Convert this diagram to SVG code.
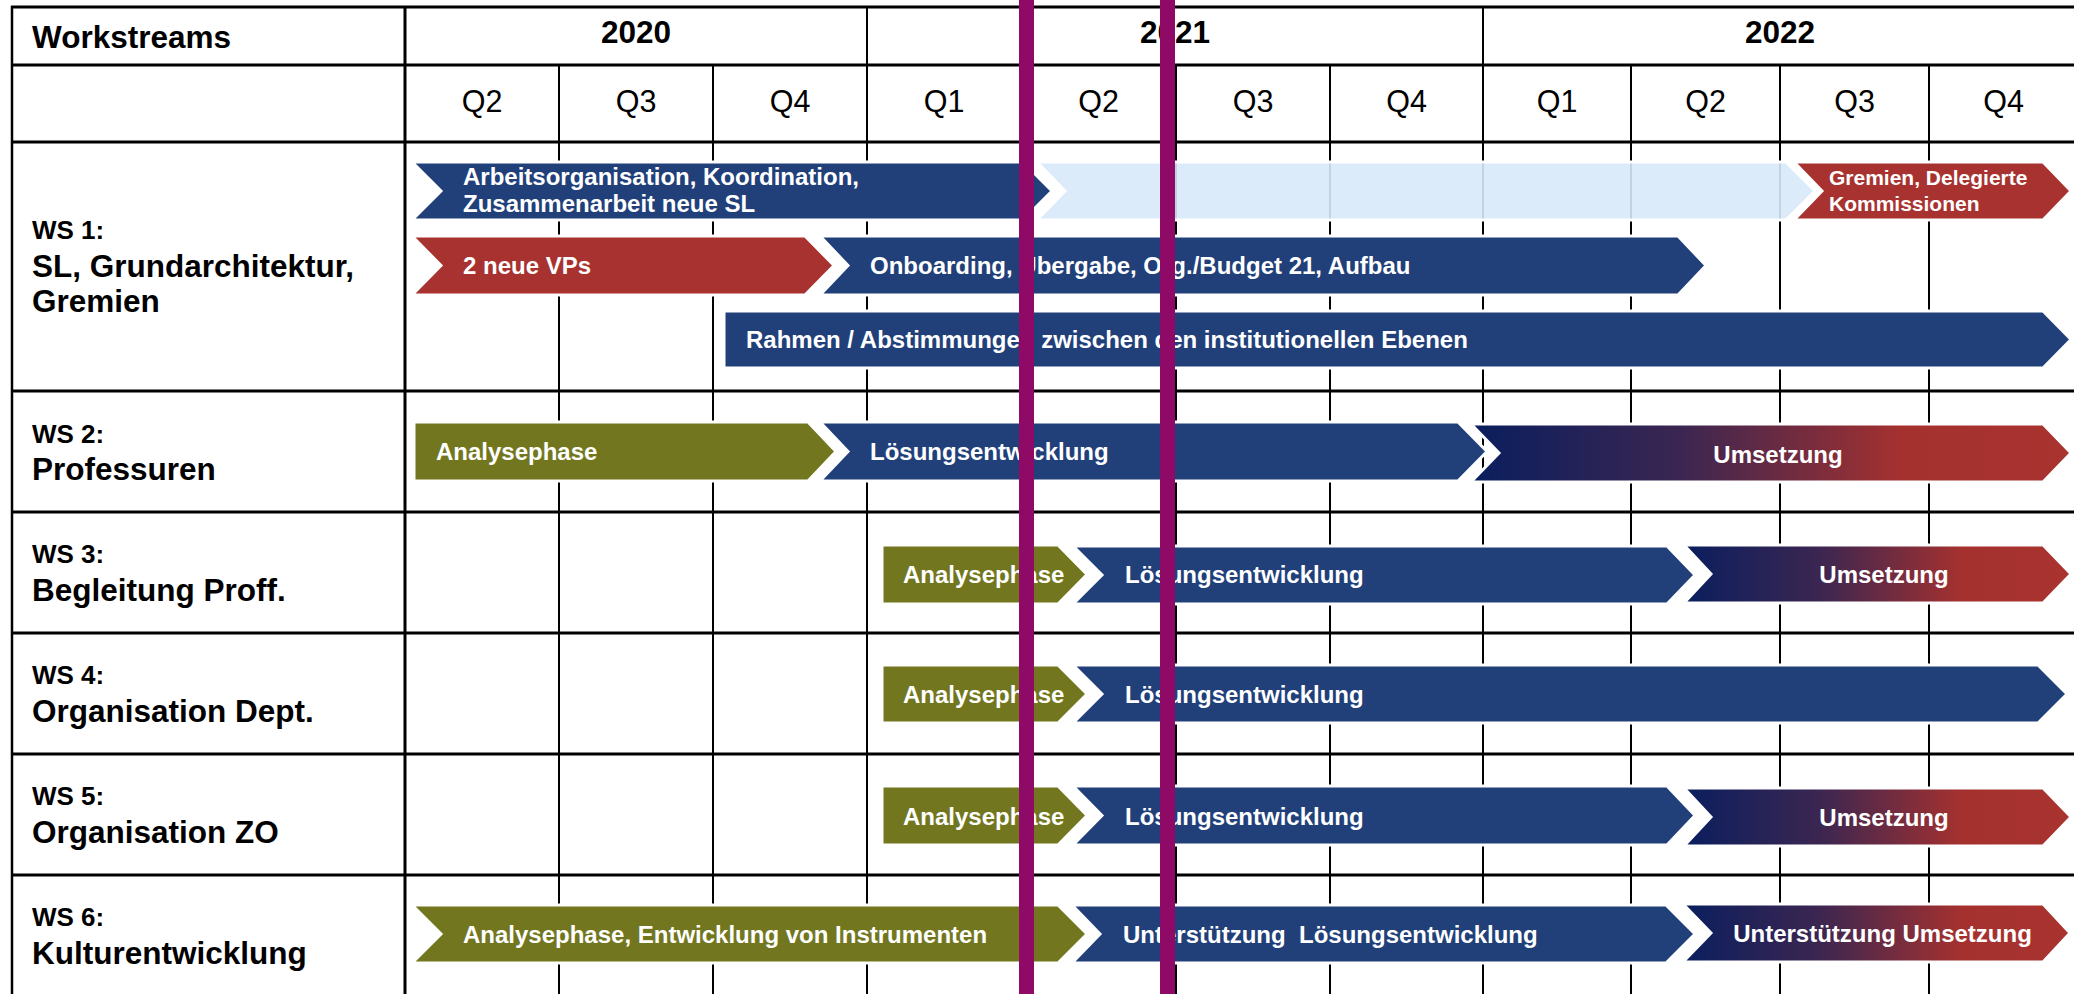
<svg xmlns="http://www.w3.org/2000/svg" width="2074" height="994" viewBox="0 0 2074 994">
<style>
text{font-family:"Liberation Sans",Arial,Helvetica,sans-serif}
.h{font-weight:bold;font-size:31.5px;fill:#000}
.q{font-size:30.5px;fill:#000;text-anchor:middle}
.ws{font-weight:bold;font-size:26px;fill:#000}
.lb{font-weight:bold;font-size:31.5px;fill:#000}
.bt{font-weight:bold;font-size:24px;fill:#fff}
.bs{font-weight:bold;font-size:21px;fill:#fff}
.mid{text-anchor:middle}
.hl{stroke:#000;stroke-width:3}
.vl{stroke:#000;stroke-width:2}
.blue{fill:#21407A;stroke:#fff;stroke-width:3}
.red{fill:#A8322F;stroke:#fff;stroke-width:3}
.olive{fill:#72771F;stroke:#fff;stroke-width:3}
.lightblue{fill:#D8E9F9;fill-opacity:0.9;stroke:#fff;stroke-width:3}
.grad{fill:url(#g);stroke:#fff;stroke-width:3}
.purple{fill:#8E0A66}
</style>
<defs>
<linearGradient id="g" x1="0" y1="0" x2="1" y2="0">
<stop offset="0" stop-color="#0A1E5E"/>
<stop offset="0.35" stop-color="#3B2651"/>
<stop offset="0.72" stop-color="#A5312F"/>
<stop offset="1" stop-color="#A8332F"/>
</linearGradient>
</defs>
<rect x="0" y="0" width="2074" height="994" fill="#fff"/>
<g id="grid">
<line class="hl" x1="11" y1="7" x2="2074" y2="7"/>
<line class="hl" x1="11" y1="65" x2="2074" y2="65"/>
<line class="hl" x1="11" y1="142" x2="2074" y2="142"/>
<line class="hl" x1="11" y1="391" x2="2074" y2="391"/>
<line class="hl" x1="11" y1="512" x2="2074" y2="512"/>
<line class="hl" x1="11" y1="633" x2="2074" y2="633"/>
<line class="hl" x1="11" y1="754" x2="2074" y2="754"/>
<line class="hl" x1="11" y1="875" x2="2074" y2="875"/>
<line class="vl" x1="12" y1="6" x2="12" y2="994" style="stroke-width:2.5"/>
<line class="vl" x1="405" y1="6" x2="405" y2="994" style="stroke-width:3"/>
<line class="vl" x1="867" y1="6" x2="867" y2="994"/>
<line class="vl" x1="1483" y1="6" x2="1483" y2="994"/>
<line class="vl" x1="559" y1="65" x2="559" y2="994"/>
<line class="vl" x1="713" y1="65" x2="713" y2="994"/>
<line class="vl" x1="1021" y1="65" x2="1021" y2="994"/>
<line class="vl" x1="1176" y1="65" x2="1176" y2="994"/>
<line class="vl" x1="1330" y1="65" x2="1330" y2="994"/>
<line class="vl" x1="1631" y1="65" x2="1631" y2="994"/>
<line class="vl" x1="1780" y1="65" x2="1780" y2="994"/>
<line class="vl" x1="1929" y1="65" x2="1929" y2="994"/>
</g>
<g id="header">
<text class="h" x="32" y="48">Workstreams</text>
<text class="h mid" x="636" y="43">2020</text>
<text class="h mid" x="1175" y="43">2021</text>
<text class="h mid" x="1780" y="43">2022</text>
<text class="q" x="482" y="112">Q2</text>
<text class="q" x="636" y="112">Q3</text>
<text class="q" x="790" y="112">Q4</text>
<text class="q" x="944" y="112">Q1</text>
<text class="q" x="1098.5" y="112">Q2</text>
<text class="q" x="1253" y="112">Q3</text>
<text class="q" x="1406.5" y="112">Q4</text>
<text class="q" x="1557" y="112">Q1</text>
<text class="q" x="1705.5" y="112">Q2</text>
<text class="q" x="1854.5" y="112">Q3</text>
<text class="q" x="2003.5" y="112">Q4</text>
</g>
<g id="labels">
<text class="ws" x="32" y="239">WS 1:</text>
<text class="lb" x="32" y="277">SL, Grundarchitektur,</text>
<text class="lb" x="32" y="312">Gremien</text>
<text class="ws" x="32" y="443">WS 2:</text>
<text class="lb" x="32" y="480">Professuren</text>
<text class="ws" x="32" y="563">WS 3:</text>
<text class="lb" x="32" y="601">Begleitung Proff.</text>
<text class="ws" x="32" y="684">WS 4:</text>
<text class="lb" x="32" y="722">Organisation Dept.</text>
<text class="ws" x="32" y="805">WS 5:</text>
<text class="lb" x="32" y="843">Organisation ZO</text>
<text class="ws" x="32" y="926">WS 6:</text>
<text class="lb" x="32" y="964">Kulturentwicklung</text>
</g>
<g id="ws1-arbeitsorganisation">
<polygon class="blue" points="412,162 1023,162 1052,191 1023,220 412,220 441,191"/>
<text class="bt" x="463" y="185">Arbeitsorganisation, Koordination,</text>
<text class="bt" x="463" y="212">Zusammenarbeit neue SL</text>
</g>
<g id="ws1-continuation">
<polygon class="lightblue" points="1037,162 1786,162 1815,191 1786,220 1037,220 1065,191"/>
</g>
<g id="ws1-gremien">
<polygon class="red" points="1794,162 2043,162 2071,191 2043,220 1794,220 1822,191"/>
<text class="bs" x="1829" y="185">Gremien, Delegierte</text>
<text class="bs" x="1829" y="211">Kommissionen</text>
</g>
<g id="ws1-vps">
<polygon class="red" points="412,236 805,236 834,265.5 805,295 412,295 441,265.5"/>
<text class="bt" x="463" y="274">2 neue VPs</text>
</g>
<g id="ws1-onboarding">
<polygon class="blue" points="820,236 1678,236 1706,265.5 1678,295 820,295 848,265.5"/>
<text class="bt" x="870" y="274">Onboarding, Übergabe, Org./Budget 21, Aufbau</text>
</g>
<g id="ws1-rahmen">
<polygon class="blue" points="724,311 2043,311 2071,339.5 2043,368 724,368"/>
<text class="bt" x="746" y="348">Rahmen / Abstimmungen zwischen den institutionellen Ebenen</text>
</g>
<g id="ws2-analyse">
<polygon class="olive" points="414,422 808,422 836,451.5 808,481 414,481"/>
<text class="bt" x="436" y="460">Analysephase</text>
</g>
<g id="ws2-loesung">
<polygon class="blue" points="820,422 1458,422 1487,451.5 1458,481 820,481 848,451.5"/>
<text class="bt" x="870" y="460">Lösungsentwicklung</text>
</g>
<g id="ws2-umsetzung">
<polygon class="grad" points="1471,424 2043,424 2071,453 2043,482 1471,482 1499,453"/>
<text class="bt mid" x="1778" y="463">Umsetzung</text>
</g>
<g id="ws3-analyse">
<polygon class="olive" points="882,545 1058,545 1087,574.5 1058,604 882,604"/>
<text class="bt" x="903" y="583">Analysephase</text>
</g>
<g id="ws3-loesung">
<polygon class="blue" points="1073,546 1667,546 1695,575 1667,604 1073,604 1102,575"/>
<text class="bt" x="1125" y="583">Lösungsentwicklung</text>
</g>
<g id="ws3-umsetzung">
<polygon class="grad" points="1684,545 2043,545 2071,574 2043,603 1684,603 1711,574"/>
<text class="bt mid" x="1884" y="583">Umsetzung</text>
</g>
<g id="ws4-analyse">
<polygon class="olive" points="882,665 1058,665 1087,694 1058,723 882,723"/>
<text class="bt" x="903" y="703">Analysephase</text>
</g>
<g id="ws4-loesung">
<polygon class="blue" points="1073,665 2038,665 2067,694 2038,723 1073,723 1102,694"/>
<text class="bt" x="1125" y="703">Lösungsentwicklung</text>
</g>
<g id="ws5-analyse">
<polygon class="olive" points="882,786 1058,786 1087,815.5 1058,845 882,845"/>
<text class="bt" x="903" y="825">Analysephase</text>
</g>
<g id="ws5-loesung">
<polygon class="blue" points="1073,786 1667,786 1695,815.5 1667,845 1073,845 1102,815.5"/>
<text class="bt" x="1125" y="825">Lösungsentwicklung</text>
</g>
<g id="ws5-umsetzung">
<polygon class="grad" points="1684,788 2043,788 2071,817 2043,846 1684,846 1711,817"/>
<text class="bt mid" x="1884" y="826">Umsetzung</text>
</g>
<g id="ws6-analyse">
<polygon class="olive" points="412,905 1058,905 1087,934 1058,963 412,963 441,934"/>
<text class="bt" x="463" y="943">Analysephase, Entwicklung von Instrumenten</text>
</g>
<g id="ws6-loesung">
<polygon class="blue" points="1072,905 1666,905 1695,934 1666,963 1072,963 1100,934"/>
<text class="bt" x="1123" y="943">Unterstützung&#160; Lösungsentwicklung</text>
</g>
<g id="ws6-umsetzung">
<polygon class="grad" points="1683,904 2043,904 2070,933 2043,962 1683,962 1711,933"/>
<text class="bt mid" x="1882.5" y="942">Unterstützung Umsetzung</text>
</g>
<g id="connectors">
<rect class="purple" x="1019" y="0" width="15" height="994"/>
<rect class="purple" x="1160" y="0" width="15" height="994"/>
</g>
</svg>
